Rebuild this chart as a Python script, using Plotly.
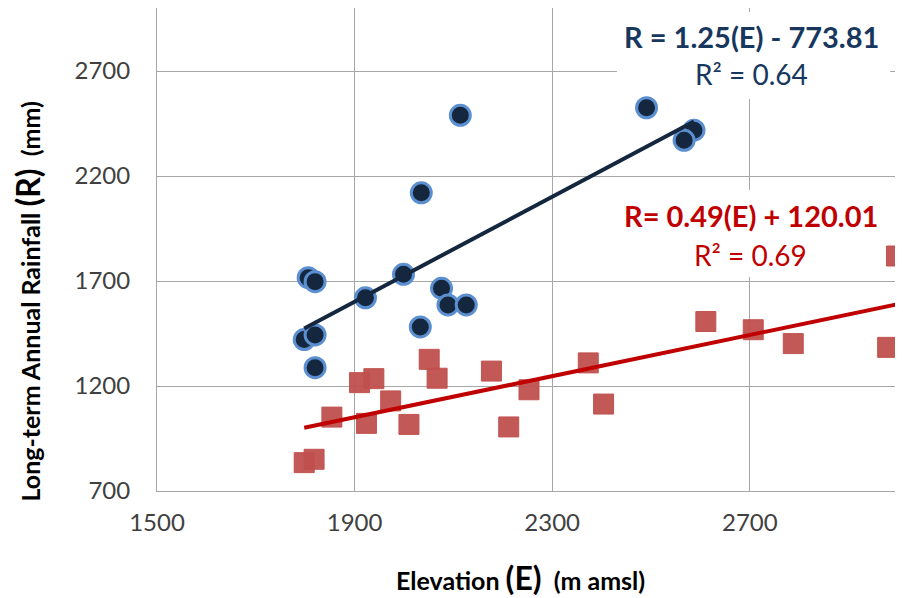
import plotly.graph_objects as go

# ---- data ----
blue_E = [2114, 2035, 1806, 1820, 1999, 1922, 2076, 2089, 2126, 2033, 1798, 1820, 1820, 2491, 2587, 2567]
blue_R = [2489, 2120, 1716, 1697, 1732, 1620, 1665, 1586, 1586, 1481, 1421, 1443, 1287, 2525, 2418, 2370]
red_E = [1798, 1818, 1854, 1910, 1939, 1924, 1973, 2010, 2051, 2067, 2177, 2212, 2253, 2373, 2404, 2611, 2707, 2788, 2979, 2997]
red_R = [835, 851, 1052, 1216, 1235, 1022, 1129, 1017, 1327, 1237, 1271, 1005, 1182, 1310, 1114, 1507, 1468, 1402, 1384, 1819]
blue_slope, blue_icpt = 1.25, -773.81
red_slope, red_icpt = 0.49, 120.01
x_ticks = [1500, 1900, 2300, 2700]
y_ticks = [700, 1200, 1700, 2200, 2700]

FONT = "Lato"
NAVY = "#14273f"
NAVY_TXT = "#17375e"
RED_M = "rgba(192,80,77,0.95)"
RED_L = "#c00000"

fig = go.Figure()
fig.add_trace(go.Scatter(x=blue_E, y=blue_R, mode="markers",
                         marker=dict(symbol="circle", size=20, color=NAVY,
                                     line=dict(color="#5b8fd0", width=3))))
fig.add_trace(go.Scatter(x=red_E, y=red_R, mode="markers",
                         marker=dict(symbol="square", size=20, color=RED_M,
                                     line=dict(color=RED_M, width=1))))
bx = [min(blue_E), max(blue_E)]
fig.add_trace(go.Scatter(x=bx, y=[blue_slope * v + blue_icpt for v in bx], mode="lines",
                         line=dict(color=NAVY, width=4)))
rx = [min(red_E), 3000]
fig.add_trace(go.Scatter(x=rx, y=[red_slope * v + red_icpt for v in rx], mode="lines",
                         line=dict(color=RED_L, width=4)))

# white label boxes
fig.add_shape(type="rect", xref="x", yref="y", x0=2431, x1=2984, y0=2567, y1=2981,
              fillcolor="white", line=dict(width=0), layer="between")
fig.add_shape(type="rect", xref="x", yref="y", x0=2427, x1=2984, y0=1719, y1=2133,
              fillcolor="white", line=dict(width=0), layer="between")

ann = [
    dict(x=2704, y=2865, text="<b>R = 1.25(E) - 773.81</b>", font=dict(size=29, color=NAVY_TXT)),
    dict(x=2704, y=2684, text="R² = 0.64", font=dict(size=28, color=NAVY_TXT)),
    dict(x=2702, y=2012, text="<b>R= 0.49(E) + 120.01</b>", font=dict(size=29, color=RED_L)),
    dict(x=2702, y=1826, text="R² = 0.69", font=dict(size=28, color=RED_L)),
]
for a in ann:
    fig.add_annotation(xref="x", yref="y", showarrow=False, xanchor="center", yanchor="middle",
                       font_family=FONT, **a)

fig.add_annotation(xref="paper", yref="paper", x=0.49, y=-0.18, xanchor="center", yanchor="middle",
                   showarrow=False,
                   text="<b>Elevation <span style='font-size:32px'>(E)</span>&nbsp; (m amsl)</b>",
                   font=dict(family=FONT, size=25, color="black"))
fig.add_annotation(xref="paper", yref="paper", x=-0.175, y=0.393, xanchor="center", yanchor="middle",
                   showarrow=False, textangle=-90,
                   text="<b>Long-term Annual Rainfall <span style='font-size:32px'>(R)</span>&nbsp; (mm)</b>",
                   font=dict(family=FONT, size=25, color="black"))

axis_common = dict(showgrid=True, gridcolor="#a6a6a6", gridwidth=1, zeroline=False,
                   showline=True, linecolor="#a6a6a6", linewidth=1, mirror=True,
                   ticks="outside", tickcolor="rgba(0,0,0,0)",
                   tickfont=dict(family=FONT, size=24, color="#404040"))
fig.update_xaxes(range=[1500, 3000], tickvals=x_ticks, ticktext=[str(v) for v in x_ticks],
                 ticklen=10, **axis_common)
fig.update_yaxes(range=[700, 3000], tickvals=y_ticks, ticktext=[str(v) for v in y_ticks],
                 ticklen=21, **axis_common)

fig.update_layout(width=895, height=590, showlegend=False,
                  margin=dict(l=149, r=5, t=0, b=107),
                  plot_bgcolor="white", paper_bgcolor="white",
                  font=dict(family=FONT))
fig.write_html("out.html")
